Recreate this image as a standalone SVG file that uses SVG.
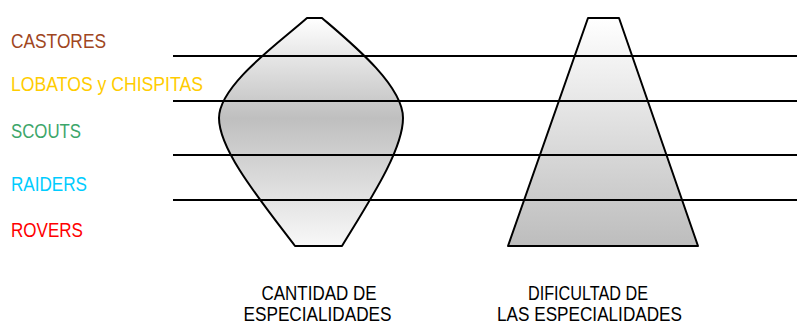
<svg xmlns="http://www.w3.org/2000/svg" width="797" height="325" viewBox="0 0 797 325">
  <style>
    .lbl { font-family: "Liberation Sans", Arial, sans-serif; font-size: 20px; }
    .cap { font-family: "Liberation Sans", Arial, sans-serif; font-size: 20px; fill: #000; text-anchor: middle; }
    .shape { stroke: #000; stroke-width: 2; stroke-linejoin: round; }
    .band { stroke: #000; stroke-width: 2; fill: none; }
  </style>
  <defs>
    <linearGradient id="gDiamond" x1="0" y1="18" x2="0" y2="246" gradientUnits="userSpaceOnUse">
      <stop offset="0" stop-color="#ffffff"/>
      <stop offset="0.44" stop-color="#bfbfbf"/>
      <stop offset="1" stop-color="#f8f8f8"/>
    </linearGradient>
    <linearGradient id="gTrap" x1="0" y1="18" x2="0" y2="246" gradientUnits="userSpaceOnUse">
      <stop offset="0" stop-color="#ffffff"/>
      <stop offset="1" stop-color="#bdbdbd"/>
    </linearGradient>
  </defs>

  <g id="labels">
    <text class="lbl" x="11" y="48" fill="#a0461e" textLength="95" lengthAdjust="spacingAndGlyphs">CASTORES</text>
    <text class="lbl" x="11" y="91" fill="#ffcc00" textLength="192" lengthAdjust="spacingAndGlyphs">LOBATOS y CHISPITAS</text>
    <text class="lbl" x="11" y="138" fill="#3ca66a" textLength="70" lengthAdjust="spacingAndGlyphs">SCOUTS</text>
    <text class="lbl" x="11" y="191" fill="#00ccff" textLength="76" lengthAdjust="spacingAndGlyphs">RAIDERS</text>
    <text class="lbl" x="11" y="237" fill="#ff0000" textLength="72" lengthAdjust="spacingAndGlyphs">ROVERS</text>
  </g>

  <g id="cantidad">
    <path class="shape" fill="url(#gDiamond)" d="M307,18 L322,18 C350,42 403,85 403,118 C403,150 370,200 342,246 L295,246 C260,200 219,150 219,118 C219,85 280,42 307,18 Z"/>
    <text class="cap" x="319" y="300" textLength="115" lengthAdjust="spacingAndGlyphs">CANTIDAD DE</text>
    <text class="cap" x="317.5" y="321" textLength="148" lengthAdjust="spacingAndGlyphs">ESPECIALIDADES</text>
  </g>

  <g id="dificultad">
    <path class="shape" fill="url(#gTrap)" d="M588,18 L619,18 L698,246 L508,246 Z"/>
    <text class="cap" x="588" y="300" textLength="120" lengthAdjust="spacingAndGlyphs">DIFICULTAD DE</text>
    <text class="cap" x="589.5" y="321" textLength="185" lengthAdjust="spacingAndGlyphs">LAS ESPECIALIDADES</text>
  </g>

  <g id="connectors">
    <line class="band" x1="173" y1="56" x2="797" y2="56"/>
    <line class="band" x1="173" y1="101" x2="797" y2="101"/>
    <line class="band" x1="173" y1="155" x2="797" y2="155"/>
    <line class="band" x1="173" y1="200" x2="797" y2="200"/>
  </g>
</svg>
